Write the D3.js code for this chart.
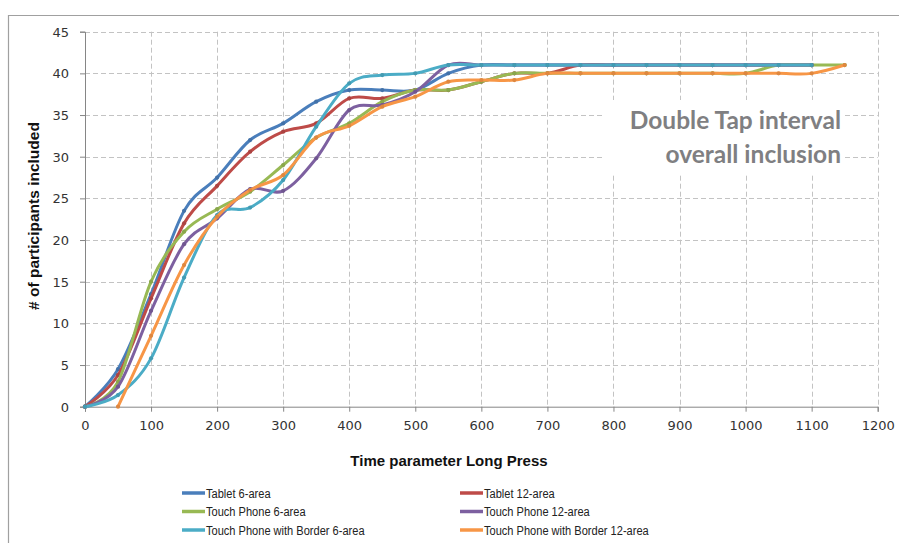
<!DOCTYPE html>
<html><head><meta charset="utf-8">
<script src="https://cdn.jsdelivr.net/npm/d3@7"></script>
<style>body{margin:0;background:#fff}svg{display:block}</style>
</head><body>
<svg id="chart" width="899" height="543"></svg>
<script>
const xValues = [0,50,100,150,200,250,300,350,400,450,500,550,600,650,700,750,800,850,900,950,1000,1050,1100,1150];
const tablet6 = [0,4.5,13.5,23.5,27.5,32,34,36.6,38,38,38,40,41,41,41,41,41,41,41,41,41,41,41];
const tablet12 = [0,3.8,13,22,26.5,30.6,33,34,37,37,38,38,39,40,40,41,41,41,41,41,41,41,41];
const phone6 = [0,3,15,21,23.7,25.8,29,32.3,34,36.6,38,38,39,40,40,40,40,40,40,40,40,41,41,41];
const phone12 = [0,2.4,11.5,19.5,22.6,26.1,25.9,29.8,35.6,36.2,37.8,41,41,41,41,41,41,41,41,41,41,41,41];
const border6 = [0,1.4,5.8,15.5,23,23.9,27.2,33.6,38.8,39.8,40,41,41,41,41,41,41,41,41,41,41,41,41];
const border12 = [null,0,8.5,17,22.8,26,27.8,32.3,33.7,36,37.2,39,39.2,39.2,40,40,40,40,40,40,40,40,40,41];
const seriesNames = ["Tablet 6-area","Tablet 12-area","Touch Phone 6-area","Touch Phone 12-area","Touch Phone with Border 6-area","Touch Phone with Border 12-area"];
const seriesColors = ["#4A7EBB","#BE4B48","#98B954","#7D60A0","#4BACC6","#F79646"];
const seriesData = [tablet6,tablet12,phone6,phone12,border6,border12];
const xTicks = [0,100,200,300,400,500,600,700,800,900,1000,1100,1200];
const yTicks = [0,5,10,15,20,25,30,35,40,45];
const markerLines = [{x:245,color:"#FF0000"},{x:398,color:"#4F6228"}];
const titleLines = ["Double Tap interval","overall inclusion"];
const xTitle = "Time parameter Long Press";
const yTitle = "# of participants included";

const svg = d3.select("#chart");
const L=85,R=877.7,T=31.7,B=406.7;
const x = d3.scaleLinear().domain([0,1200]).range([L,R]);
const y = d3.scaleLinear().domain([0,45]).range([B,T]);

const defs = svg.append("defs");
const f = defs.append("filter").attr("id","sh").attr("x","-200%").attr("width","500%");
f.append("feDropShadow").attr("dx",3).attr("dy",0).attr("stdDeviation",1.5).attr("flood-color","#000").attr("flood-opacity",0.35);

// outer border
svg.append("path").attr("d","M8.5,543 V15.5 H899").attr("fill","none").attr("stroke","#A0A0A0").attr("stroke-width",1.2);

// grid
const g = svg.append("g");
g.selectAll(".hg").data(yTicks.filter(d=>d>0)).join("line")
 .attr("x1",L).attr("x2",R).attr("y1",d=>Math.round(y(d))+0.5).attr("y2",d=>Math.round(y(d))+0.5)
 .attr("stroke","#C3C3C3").attr("stroke-dasharray","5,3");
g.selectAll(".vg").data(xTicks.filter(d=>d>0)).join("line")
 .attr("y1",T).attr("y2",B).attr("x1",d=>Math.round(x(d))+0.5).attr("x2",d=>Math.round(x(d))+0.5)
 .attr("stroke","#C3C3C3").attr("stroke-dasharray","5,3");

// title box
svg.append("rect").attr("x",605).attr("y",100).attr("width",239).attr("height",73).attr("fill","#fff");
svg.append("text").attr("x",841).attr("y",129).attr("text-anchor","end")
 .attr("font-family","Lato, sans-serif").attr("font-weight","bold").attr("font-size",24.5).attr("fill","#7F7F82")
 .selectAll("tspan").data(titleLines).join("tspan").attr("x",841).attr("dy",(d,i)=>i?34:0).text(d=>d);

// axes
const xAxis = svg.append("g").attr("transform",`translate(0,${B})`)
 .call(d3.axisBottom(x).tickValues(xTicks).tickSize(5).tickFormat(d3.format("d")));
const yAxis = svg.append("g").attr("transform",`translate(${L},0)`)
 .call(d3.axisLeft(y).tickValues(yTicks).tickSize(5).tickFormat(d3.format("d")));
[xAxis,yAxis].forEach(a=>{
  a.select(".domain").attr("stroke","#868686");
  a.selectAll(".tick line").attr("stroke","#868686");
  a.selectAll("text").attr("font-family","DejaVu Sans, sans-serif").attr("font-size",13).attr("fill","#333");
});
xAxis.selectAll("text").attr("dy","1.15em");
yAxis.selectAll("text").attr("x",-16).attr("dy","0.35em");

// series
const line = d3.line().defined(d=>d[1]!=null).x(d=>x(d[0])).y(d=>y(d[1])).curve(d3.curveCardinal.tension(0));
seriesData.forEach((vals,i)=>{
  const pts = vals.map((v,j)=>[xValues[j],v]);
  svg.append("path").datum(pts).attr("d",line).attr("fill","none")
    .attr("stroke",seriesColors[i]).attr("stroke-width",3).attr("stroke-linejoin","round");
  svg.append("g").selectAll("circle").data(pts.filter(p=>p[1]!=null)).join("circle")
    .attr("cx",p=>x(p[0])).attr("cy",p=>y(p[1])).attr("r",2.1).attr("fill",d3.color(seriesColors[i]).darker(0.3));
});

// vertical reference lines
markerLines.forEach(m=>{
  svg.append("line").attr("x1",x(m.x)).attr("x2",x(m.x)).attr("y1",T).attr("y2",B)
   .attr("stroke",m.color).attr("stroke-width",2.2).attr("filter","url(#sh)");
});

// axis titles
svg.append("text").attr("x",449).attr("y",466).attr("text-anchor","middle")
 .attr("font-family","Liberation Sans, Arial, sans-serif").attr("font-weight","bold").attr("font-size",15).attr("fill","#111").text(xTitle);
svg.append("text").attr("transform","translate(39,216) rotate(-90)").attr("text-anchor","middle")
 .attr("font-family","Liberation Sans, Arial, sans-serif").attr("font-weight","bold").attr("font-size",15.5).attr("fill","#111").text(yTitle);

// legend
const legPos = [[182,493],[460,493],[182,511.5],[460,511.5],[182,530],[460,530]];
seriesNames.forEach((n,i)=>{
  const [lx,ly]=legPos[i];
  svg.append("line").attr("x1",lx).attr("x2",lx+23).attr("y1",ly).attr("y2",ly)
   .attr("stroke",seriesColors[i]).attr("stroke-width",3.5);
  svg.append("text").attr("transform",`translate(${lx+24},${ly+4.5}) scale(0.82,1)`)
   .attr("font-family","Liberation Sans, Arial, sans-serif").attr("font-size",13.5).attr("fill","#222").text(n);
});
</script>
</body></html>
